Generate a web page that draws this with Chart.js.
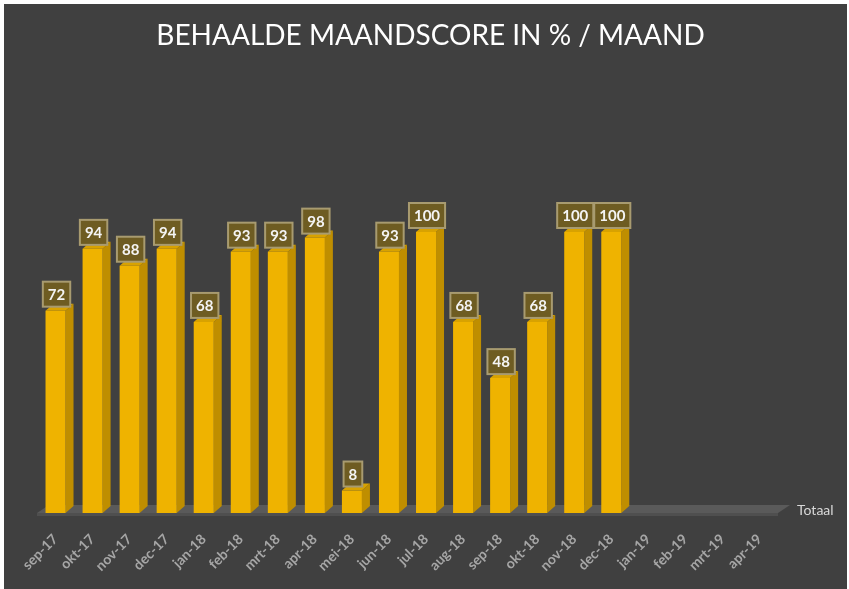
<!DOCTYPE html>
<html>
<head>
<meta charset="utf-8">
<title>Behaalde maandscore</title>
<script src="https://cdn.jsdelivr.net/npm/chart.js@4.4.1/dist/chart.umd.min.js"></script>
<style>
    body { margin: 0; background: #ffffff; }
    #wrap { position: absolute; left: 4px; top: 4px; width: 843px; height: 585px; background: #404040; }
</style>
</head>
<body>
<div id="wrap"><canvas id="scoreChart"></canvas></div>
<script>
// Maanden en behaalde score per maand (in %)
const maanden = ['sep-17', 'okt-17', 'nov-17', 'dec-17', 'jan-18', 'feb-18', 'mrt-18', 'apr-18', 'mei-18', 'jun-18',
    'jul-18', 'aug-18', 'sep-18', 'okt-18', 'nov-18', 'dec-18', 'jan-19', 'feb-19', 'mrt-19', 'apr-19'];
const totaal = [72, 94, 88, 94, 68, 93, 93, 98, 8, 93, 100, 68, 48, 68, 100, 100, null, null, null, null];
const reeksNaam = 'Totaal';

const diepte = { dx: 8, dy: 7 };

// Plugin voor het 3D-effect, de vloer, de labels en de legenda
const drieDPlugin = {
    id: 'drieD',
    beforeDatasetsDraw(chart) {
        const { ctx, chartArea } = chart;
        const l = chartArea.left, r = chartArea.right, b = chartArea.bottom;
        ctx.save();
        // vloer
        ctx.fillStyle = '#5a5a5a';
        ctx.beginPath();
        ctx.moveTo(l, b);
        ctx.lineTo(r, b);
        ctx.lineTo(r + 12, b - 8);
        ctx.lineTo(l + 12, b - 8);
        ctx.closePath();
        ctx.fill();
        ctx.fillStyle = '#4f4f4f';
        ctx.fillRect(l, b, r - l, 3);

        // zijkant en bovenkant van de staven
        const meta = chart.getDatasetMeta(0);
        meta.data.forEach((bar, i) => {
            if (totaal[i] === null) return;
            const w = bar.width / 2;
            const { dx, dy } = diepte;
            ctx.fillStyle = '#BF8E00';
            ctx.beginPath();
            ctx.moveTo(bar.x + w, bar.y);
            ctx.lineTo(bar.x + w + dx, bar.y - dy);
            ctx.lineTo(bar.x + w + dx, bar.base - dy);
            ctx.lineTo(bar.x + w, bar.base);
            ctx.closePath();
            ctx.fill();
            ctx.fillStyle = '#D8A200';
            ctx.beginPath();
            ctx.moveTo(bar.x - w, bar.y);
            ctx.lineTo(bar.x - w + dx, bar.y - dy);
            ctx.lineTo(bar.x + w + dx, bar.y - dy);
            ctx.lineTo(bar.x + w, bar.y);
            ctx.closePath();
            ctx.fill();
        });
        ctx.restore();
    },
    afterDatasetsDraw(chart) {
        const { ctx, chartArea } = chart;
        const meta = chart.getDatasetMeta(0);
        ctx.save();
        ctx.font = 'bold 15px Lato';
        ctx.textAlign = 'center';
        ctx.textBaseline = 'middle';
        meta.data.forEach((bar, i) => {
            if (totaal[i] === null) return;
            const tekst = String(totaal[i]);
            const bw = ctx.measureText(tekst).width + 10;
            const bh = 25;
            const bx = bar.x + 1 - bw / 2;
            const by = bar.y - 4 - bh;
            ctx.fillStyle = '#6E5C22';
            ctx.fillRect(bx, by, bw, bh);
            ctx.strokeStyle = '#A89B70';
            ctx.lineWidth = 2;
            ctx.strokeRect(bx, by, bw, bh);
            ctx.fillStyle = '#F4F4F4';
            ctx.fillText(tekst, bx + bw / 2, by + bh / 2 + 1);
        });
        // legenda
        ctx.font = '14px Lato';
        ctx.textAlign = 'left';
        ctx.fillStyle = '#D9D9D9';
        ctx.fillText(reeksNaam, chartArea.right + 19, chartArea.bottom - 3);
        ctx.restore();
    }
};

const config = {
    type: 'bar',
    data: {
        labels: maanden,
        datasets: [{
            label: reeksNaam,
            data: totaal,
            backgroundColor: '#EFB300',
            borderWidth: 0,
            barPercentage: 0.54,
            categoryPercentage: 1
        }]
    },
    options: {
        responsive: true,
        maintainAspectRatio: false,
        animation: false,
        layout: { padding: { left: 10, right: 0, top: 0, bottom: 0 } },
        plugins: {
            legend: { display: false },
            tooltip: { enabled: false },
            title: {
                display: true,
                text: 'BEHAALDE MAANDSCORE IN % / MAAND',
                color: '#FFFFFF',
                font: { family: 'Lato', size: 28, weight: 'normal' },
                padding: { top: 15, bottom: 179.4 }
            }
        },
        scales: {
            x: {
                grid: { display: false },
                border: { display: false },
                ticks: {
                    color: '#A6A6A6',
                    font: { family: 'Lato', size: 14, weight: 'bold' },
                    minRotation: 45,
                    maxRotation: 45,
                    autoSkip: false,
                    padding: 10
                },
                afterFit(scale) { scale.height = 76; }
            },
            y: {
                position: 'left',
                min: 0,
                max: 100,
                grid: { display: false },
                border: { display: false },
                ticks: { display: false },
                afterFit(scale) { scale.width = 23; }
            },
            rechts: {
                position: 'right',
                grid: { display: false },
                border: { display: false },
                ticks: { display: false },
                afterFit(scale) { scale.width = 69; }
            }
        }
    },
    plugins: [drieDPlugin]
};

new Chart(document.getElementById('scoreChart').getContext('2d'), config);
</script>
</body>
</html>
